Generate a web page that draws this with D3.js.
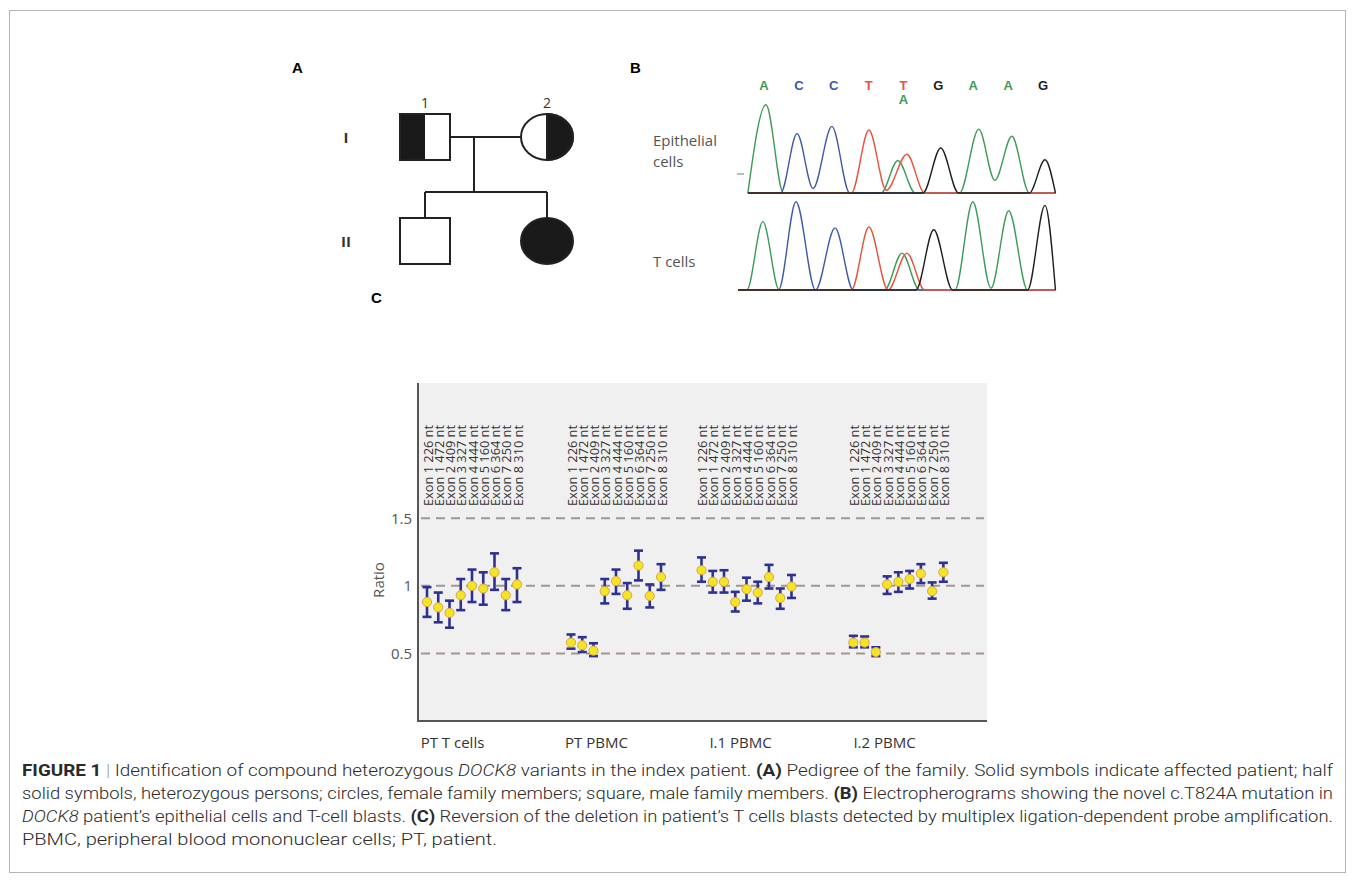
<!DOCTYPE html>
<html>
<head>
<meta charset="utf-8">
<script src="https://cdn.jsdelivr.net/npm/d3@7"></script>
<style>
  body { margin: 0; background: #fff; }
  svg { display: block; }
  text { font-family: "Open Sans", "Noto Sans", sans-serif; }
</style>
</head>
<body>
<div id="fig"></div>
<script>
// ---- A: pedigree
let generations = ["I", "II"]
let pedigree = [
  {id: "I.1", gen: "I", slot: 0, sex: "m", status: "het", label: "1"},
  {id: "I.2", gen: "I", slot: 1, sex: "f", status: "het", label: "2"},
  {id: "II.1", gen: "II", slot: 0, sex: "m", status: "none", label: ""},
  {id: "II.2", gen: "II", slot: 1, sex: "f", status: "affected", label: ""}
]

// ---- B: electropherograms (base calls, then [position, relative height] per channel)
let baseCalls = ["A", "C", "C", "T", "T", "G", "A", "A", "G"]
let epithelialTrace = {
  A: [[-0.52, 0], [0, 0.98], [0.5, 0], [3.3, 0], [3.78, 0.36], [4.28, 0], [5.55, 0], [6.1, 0.71], [6.56, 0.14], [7.05, 0.63], [7.55, 0], [8.3, 0]],
  C: [[-0.52, 0], [0.42, 0], [0.89, 0.66], [1.35, 0.05], [1.89, 0.74], [2.4, 0], [8.3, 0]],
  T: [[-0.52, 0], [2.45, 0], [2.95, 0.70], [3.45, 0.03], [4.04, 0.43], [4.55, 0], [8.3, 0]],
  G: [[-0.52, 0], [4.5, 0], [5.01, 0.50], [5.52, 0], [7.55, 0], [8.0, 0.37], [8.3, 0]]
}
let tcellTrace = {
  A: [[-0.8, 0], [-0.55, 0], [-0.09, 0.76], [0.38, 0], [3.4, 0], [3.9, 0.41], [4.4, 0], [5.42, 0], [5.93, 0.98], [6.45, 0.02], [6.96, 0.88], [7.5, 0], [8.3, 0]],
  C: [[-0.8, 0], [0.36, 0], [0.86, 0.98], [1.42, 0], [1.98, 0.69], [2.5, 0], [8.3, 0]],
  T: [[-0.8, 0], [2.45, 0], [2.95, 0.70], [3.5, 0], [4.04, 0.41], [4.55, 0], [8.3, 0]],
  G: [[-0.8, 0], [4.3, 0], [4.81, 0.67], [5.35, 0], [7.5, 0], [8.0, 0.94], [8.3, 0]]
}

// ---- C: MLPA ratios
let groups = ["PT T cells", "PT PBMC", "I.1 PBMC", "I.2 PBMC"]
let probes = ["Exon 1 226 nt", "Exon 1 472 nt", "Exon 2 409 nt", "Exon 3 327 nt", "Exon 4 444 nt",
              "Exon 5 160 nt", "Exon 6 364 nt", "Exon 7 250 nt", "Exon 8 310 nt"]
let groupStart = [0, 12.8, 24.4, 37.9]   // probe slot where each sample begins
let ratioValues = [
  [0.88, 0.84, 0.80, 0.93, 1.00, 0.98, 1.10, 0.93, 1.01],
  [0.58, 0.56, 0.52, 0.96, 1.035, 0.93, 1.15, 0.925, 1.065],
  [1.115, 1.03, 1.03, 0.88, 0.975, 0.95, 1.065, 0.91, 0.995],
  [0.58, 0.58, 0.51, 1.01, 1.03, 1.05, 1.09, 0.96, 1.10]
]
let ratioLow = [
  [0.77, 0.73, 0.69, 0.82, 0.88, 0.86, 0.97, 0.82, 0.88],
  [0.535, 0.51, 0.48, 0.87, 0.94, 0.83, 1.04, 0.84, 0.97],
  [1.03, 0.95, 0.95, 0.81, 0.89, 0.87, 0.98, 0.83, 0.91],
  [0.545, 0.545, 0.48, 0.94, 0.955, 0.98, 1.02, 0.905, 1.03]
]
let ratioHigh = [
  [0.99, 0.95, 0.89, 1.05, 1.12, 1.10, 1.24, 1.05, 1.13],
  [0.64, 0.62, 0.575, 1.05, 1.12, 1.02, 1.26, 1.01, 1.16],
  [1.21, 1.11, 1.115, 0.955, 1.06, 1.03, 1.155, 0.98, 1.08],
  [0.63, 0.625, 0.545, 1.07, 1.10, 1.11, 1.16, 1.025, 1.17]
]
let referenceLines = [0.5, 1, 1.5]
let yTicks = [0.5, 1, 1.5]

let svg = d3.select("#fig").append("svg")
  .attr("width", 1355)
  .attr("height", 880)

// frame round the whole figure
svg.append("rect")
  .attr("x", 9.5).attr("y", 10.5)
  .attr("width", 1336).attr("height", 862)
  .attr("fill", "none").attr("stroke", "#b4b4b4")

function panelLabel(x, y, t) {
  svg.append("text").attr("x", x).attr("y", y)
    .style("font-family", "'Liberation Sans', Arial, sans-serif")
    .style("font-weight", "bold").style("font-size", "15px").text(t)
}
panelLabel(292, 73, "A")
panelLabel(630, 73, "B")
panelLabel(371, 303, "C")

// ================= A
let pedX = d3.scalePoint().domain([0, 1]).range([425, 547])
let pedY = d3.scalePoint().domain(generations).range([137, 241])
let ped = svg.append("g").attr("stroke", "#222").attr("stroke-width", 2)
let sqW = 50, sqH = 46, cRx = 26, cRy = 23
let midX = (pedX(0) + pedX(1)) / 2
let sibY = pedY("II") - sqH / 2 - 26

// mating line, descent line, sibship line
ped.append("line").attr("x1", pedX(0)).attr("x2", pedX(1)).attr("y1", pedY("I")).attr("y2", pedY("I"))
ped.append("line").attr("x1", midX - 0.5 * 24).attr("x2", midX - 0.5 * 24).attr("y1", pedY("I")).attr("y2", sibY)
ped.append("line").attr("x1", pedX(0)).attr("x2", pedX(1)).attr("y1", sibY).attr("y2", sibY)
ped.selectAll(".drop").data(pedigree.filter(d => d.gen == "II")).enter().append("line")
  .attr("x1", d => pedX(d.slot)).attr("x2", d => pedX(d.slot))
  .attr("y1", sibY).attr("y2", d => pedY(d.gen) - sqH / 2)

let person = ped.selectAll(".person").data(pedigree).enter().append("g")
  .attr("transform", d => "translate(" + pedX(d.slot) + "," + pedY(d.gen) + ")")
person.each(function(d) {
  let g = d3.select(this)
  let fill = d.status == "affected" ? "#1a1a1a" : "#fff"
  if (d.sex == "m") {
    g.append("rect").attr("x", -sqW / 2).attr("y", -sqH / 2).attr("width", sqW).attr("height", sqH).attr("fill", fill)
    if (d.status == "het") {
      g.append("rect").attr("x", -sqW / 2).attr("y", -sqH / 2).attr("width", sqW / 2).attr("height", sqH)
        .attr("fill", "#1a1a1a").attr("stroke", "none")
      g.append("rect").attr("x", -sqW / 2).attr("y", -sqH / 2).attr("width", sqW).attr("height", sqH).attr("fill", "none")
    }
  } else {
    g.append("ellipse").attr("rx", cRx).attr("ry", cRy).attr("fill", fill)
    if (d.status == "het") {
      g.append("path")
        .attr("d", "M0," + (-cRy) + " A" + cRx + "," + cRy + " 0 0 1 0," + cRy + " Z")
        .attr("fill", "#1a1a1a")
    }
  }
  if (d.label) {
    g.append("text").attr("y", -sqH / 2 - 6).attr("text-anchor", "middle")
      .attr("stroke", "none").attr("fill", "#333").style("font-size", "14px").text(d.label)
  }
})
svg.selectAll(".gen").data(generations).enter().append("text")
  .attr("x", 346).attr("y", d => pedY(d) + 6)
  .attr("text-anchor", "middle").attr("fill", "#333")
  .style("font-size", "15px").style("font-weight", "bold").text(d => d)

// ================= B
let baseColor = {A: "#3c9b57", C: "#3d5aa5", T: "#e5553c", G: "#1e1e1e"}
let bx = d3.scaleLinear().domain([0, 8]).range([766, 1045])

svg.selectAll(".call").data(baseCalls).enter().append("text")
  .attr("x", (d, i) => bx(i) - 2).attr("y", 90)
  .attr("text-anchor", "middle").attr("fill", d => baseColor[d])
  .style("font-family", "'Liberation Sans', Arial, sans-serif")
  .style("font-size", "13px").style("font-weight", "bold").text(d => d)
svg.append("text").attr("x", bx(4) - 2).attr("y", 104).attr("text-anchor", "middle")
  .attr("fill", baseColor.A).style("font-family", "'Liberation Sans', Arial, sans-serif")
  .style("font-size", "13px").style("font-weight", "bold").text("A")

function drawTrace(trace, baseline, label) {
  let by = d3.scaleLinear().domain([0, 1]).range([baseline, baseline - 90])
  let line = d3.line().x(d => bx(d[0])).y(d => by(d[1])).curve(d3.curveMonotoneX)
  let g = svg.append("g")
  ;["A", "C", "T", "G"].forEach(ch => {
    g.append("path").attr("d", line(trace[ch]))
      .attr("fill", "none").attr("stroke", baseColor[ch]).attr("stroke-width", 1.4)
  })
  label.forEach((t, i) => {
    svg.append("text").attr("x", 653).attr("y", (label.length == 1 ? baseline - 23 : baseline - 47) + i * 21)
      .attr("fill", "#555").style("font-size", "15px").text(t)
  })
}
drawTrace(epithelialTrace, 193, ["Epithelial", "cells"])
drawTrace(tcellTrace, 290, ["T cells"])
svg.append("line").attr("x1", 737).attr("x2", 744).attr("y1", 174).attr("y2", 174)
  .attr("stroke", "#777").attr("stroke-width", 1)

// ================= C
let plot = {left: 418, right: 987, top: 383, bottom: 721}
let y = d3.scaleLinear().domain([0, 2.5]).range([plot.bottom, plot.top])
let slot = d3.scaleLinear().domain([0, 46]).range([427, 944.5])
let xCat = d3.scalePoint().domain(groups).range([452, 884])

svg.append("rect").attr("x", plot.left).attr("y", plot.top)
  .attr("width", plot.right - plot.left).attr("height", plot.bottom - plot.top)
  .attr("fill", "#f0f0f0")

svg.selectAll(".ref").data(referenceLines).enter().append("line")
  .attr("x1", plot.left + 3).attr("x2", plot.right - 3)
  .attr("y1", d => y(d)).attr("y2", d => y(d))
  .attr("stroke", "#a3968e").attr("stroke-width", 2).attr("stroke-dasharray", "9,6")

let points = []
groups.forEach((g, gi) => {
  probes.forEach((p, pi) => {
    points.push({group: g, probe: p, s: groupStart[gi] + pi,
      value: ratioValues[gi][pi], lo: ratioLow[gi][pi], hi: ratioHigh[gi][pi]})
  })
})

// probe labels
svg.selectAll(".probe").data(points).enter().append("text")
  .attr("transform", d => "translate(" + (slot(d.s) + 0.5) + ",506) rotate(-90)")
  .attr("dominant-baseline", "central")
  .attr("fill", "#333").style("font-size", "13.5px")
  .attr("textLength", 81).attr("lengthAdjust", "spacingAndGlyphs")
  .text(d => d.probe)

let eb = svg.append("g").attr("stroke", "#2e3192").attr("stroke-width", 2.6)
eb.selectAll(".bar").data(points).enter().append("line")
  .attr("x1", d => slot(d.s)).attr("x2", d => slot(d.s))
  .attr("y1", d => y(d.lo)).attr("y2", d => y(d.hi))
eb.selectAll(".capHi").data(points).enter().append("line")
  .attr("x1", d => slot(d.s) - 4.5).attr("x2", d => slot(d.s) + 4.5)
  .attr("y1", d => y(d.hi)).attr("y2", d => y(d.hi))
eb.selectAll(".capLo").data(points).enter().append("line")
  .attr("x1", d => slot(d.s) - 4.5).attr("x2", d => slot(d.s) + 4.5)
  .attr("y1", d => y(d.lo)).attr("y2", d => y(d.lo))

svg.selectAll(".pt").data(points).enter().append("circle")
  .attr("cx", d => slot(d.s)).attr("cy", d => y(d.value)).attr("r", 4.6)
  .attr("fill", "#f5e423").attr("stroke", "#d8a64a").attr("stroke-width", 1)

// axes
let yAxis = d3.axisLeft(y).tickValues(yTicks).tickSize(0).tickPadding(6).tickFormat(d3.format("~g"))
let yg = svg.append("g").attr("transform", "translate(" + plot.left + ",0)").call(yAxis)
yg.select(".domain").remove()
yg.selectAll("text").attr("fill", "#555").style("font-size", "15px")
  .style("font-family", "'Open Sans', sans-serif")

let xAxis = d3.axisBottom(xCat).tickSize(0).tickPadding(16)
let xg = svg.append("g").attr("transform", "translate(0," + plot.bottom + ")").call(xAxis)
xg.select(".domain").remove()
xg.selectAll("text").attr("fill", "#333").style("font-size", "15px")
  .style("font-family", "'Open Sans', sans-serif")

svg.append("path")
  .attr("d", "M" + plot.left + "," + plot.top + "V" + plot.bottom + "H" + plot.right)
  .attr("fill", "none").attr("stroke", "#555").attr("stroke-width", 2)

svg.append("text").attr("transform", "translate(384,580) rotate(-90)")
  .attr("text-anchor", "middle").attr("fill", "#555").style("font-size", "15px").text("Ratio")

// ================= caption
let captionLines = [
  [["FIGURE 1", "b"], [" | ", "sep"], ["Identification of compound heterozygous ", ""], ["DOCK8", "i"],
   [" variants in the index patient. ", ""], ["(A)", "b"], [" Pedigree of the family. Solid symbols indicate affected patient; half", ""]],
  [["solid symbols, heterozygous persons; circles, female family members; square, male family members. ", ""], ["(B)", "b"],
   [" Electropherograms showing the novel c.T824A mutation in", ""]],
  [["DOCK8", "i"], [" patient\u2019s epithelial cells and T-cell blasts. ", ""], ["(C)", "b"],
   [" Reversion of the deletion in patient\u2019s T cells blasts detected by multiplex ligation-dependent probe amplification.", ""]],
  [["PBMC, peripheral blood mononuclear cells; PT, patient.", ""]]
]
let cap = svg.append("g")
captionLines.forEach((segs, li) => {
  let t = cap.append("text").attr("x", 22).attr("y", 776 + li * 23)
    .attr("fill", "#2a2a2a").style("font-size", "16px")
    .style("font-family", "'Roboto', sans-serif").style("font-weight", 300)
  if (li < 3) t.attr("textLength", 1311).attr("lengthAdjust", "spacingAndGlyphs")
  else t.attr("textLength", 475).attr("lengthAdjust", "spacingAndGlyphs")
  segs.forEach(s => {
    let ts = t.append("tspan").text(s[0])
    if (s[1] == "b") ts.style("font-weight", "bold")
    if (s[1] == "i") ts.style("font-style", "italic")
    if (s[1] == "sep") ts.attr("fill", "#999")
  })
})
</script>
</body>
</html>
